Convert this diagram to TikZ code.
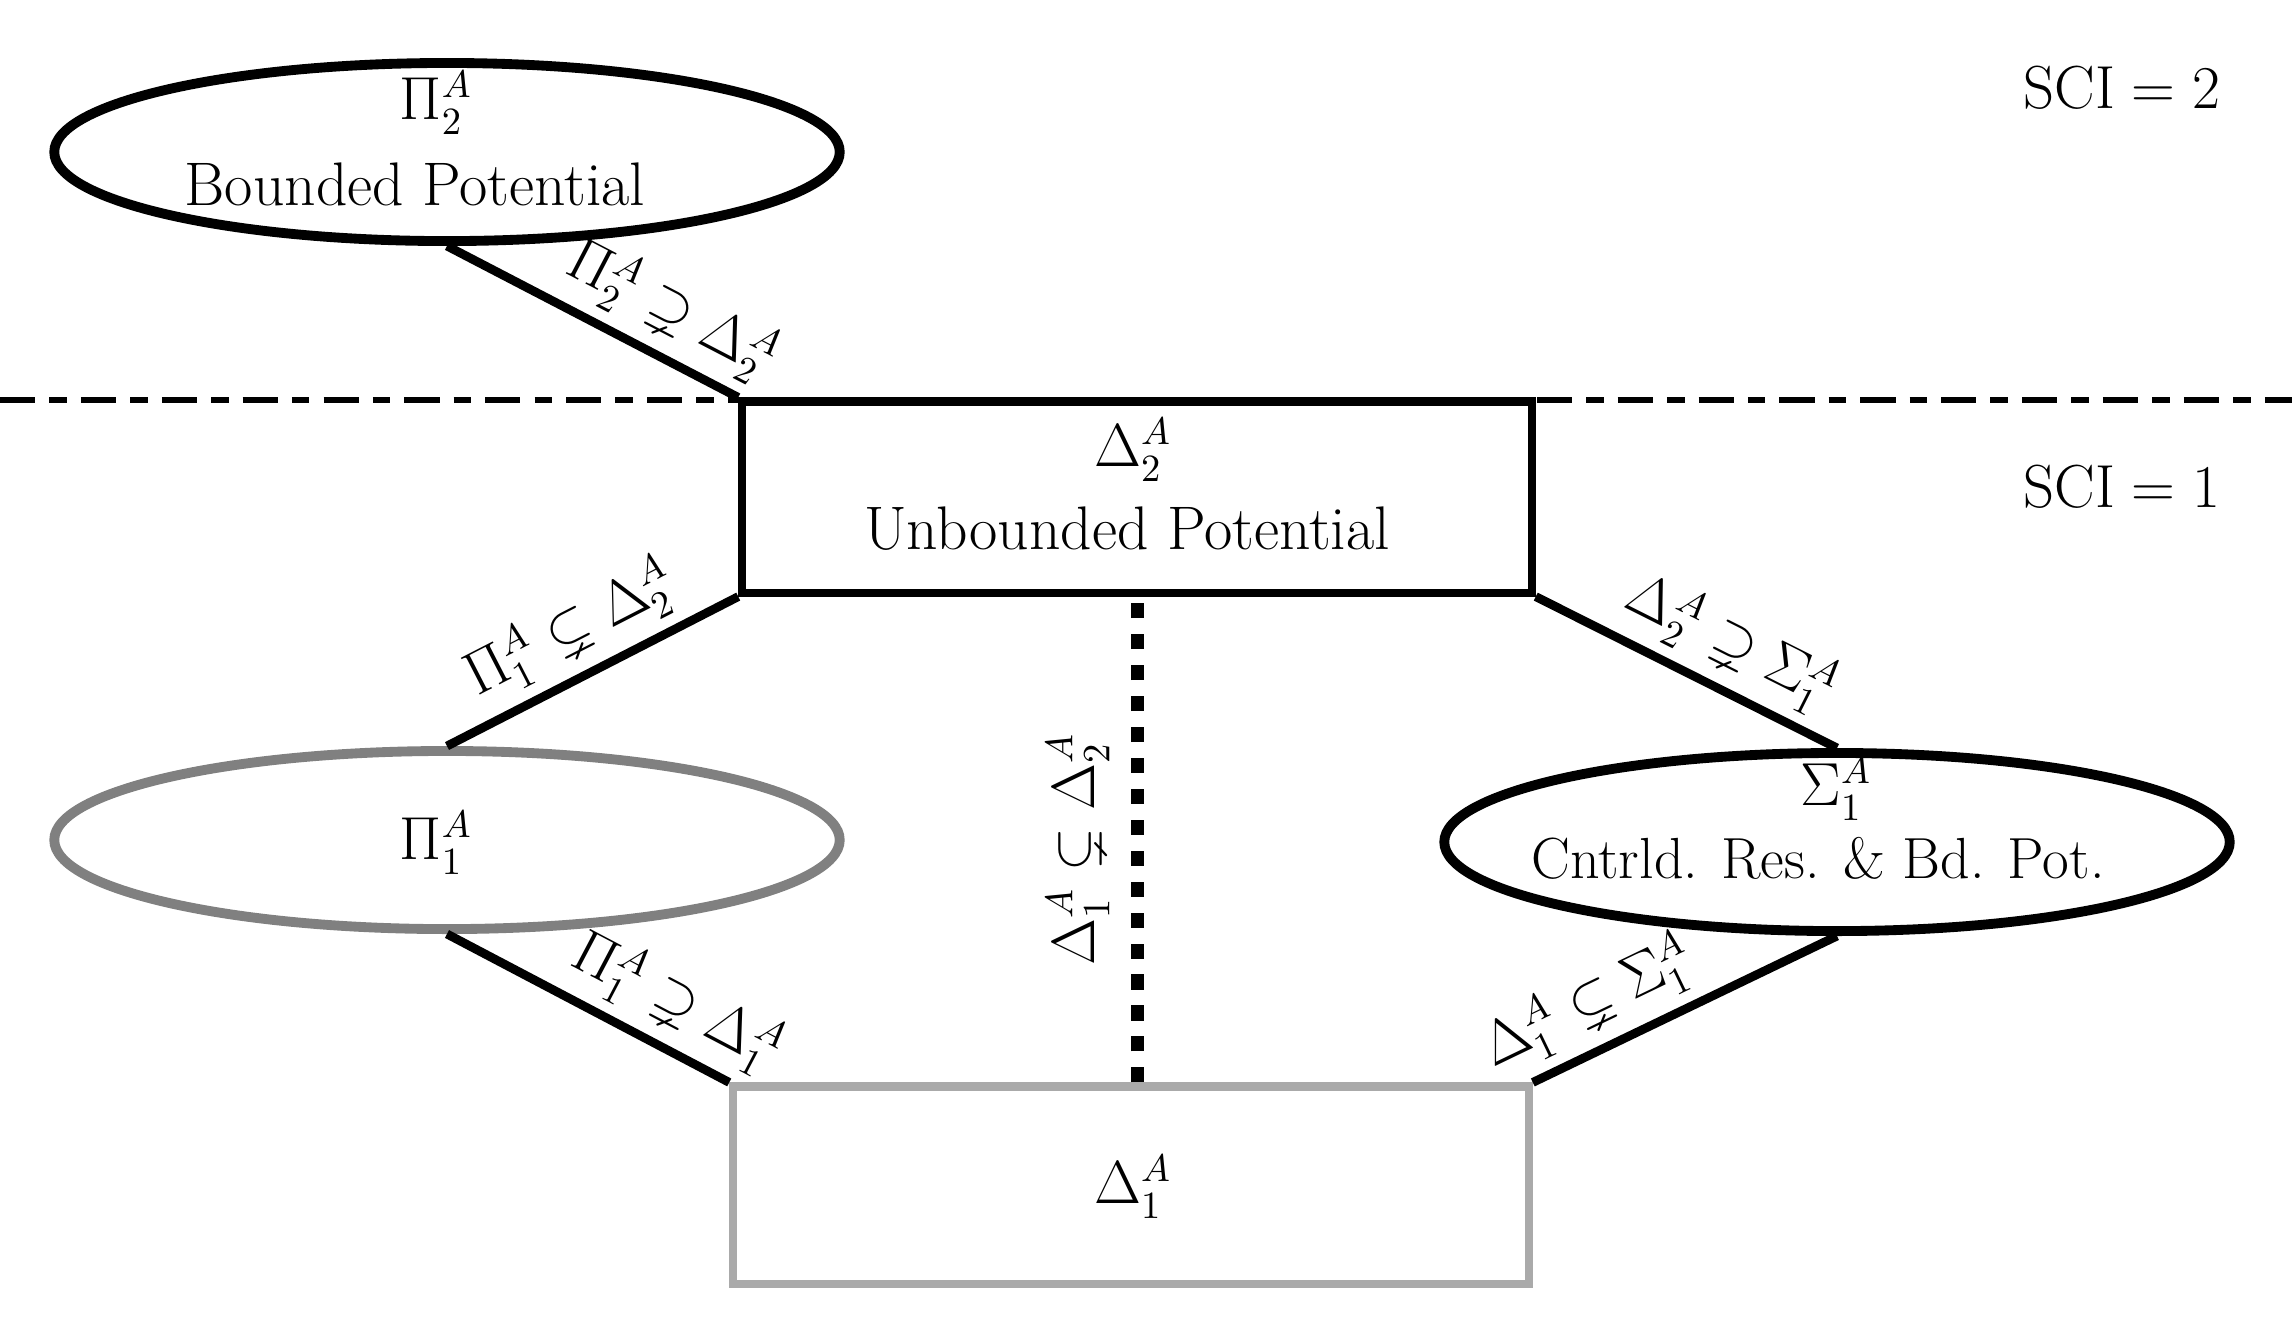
\documentclass[tikz,border=0pt]{standalone}
\usepackage{amssymb}
\usetikzlibrary{shapes.geometric}
\begin{document}
\begin{tikzpicture}[x=0.01cm,y=-0.01cm,
  every node/.style={font=\fontsize{16}{20}\selectfont},
  txt/.style={font=\fontsize{17.5}{21}\selectfont, inner sep=0pt},
  ell/.style={ellipse, draw, line width=2.8pt, minimum width=7.85cm, minimum height=1.78cm, inner sep=0pt},
  boxnode/.style={rectangle, draw, line width=2.3pt, fill=white, inner sep=0pt},
  conn/.style={line width=2.5pt},
  lab/.style={sloped, above, inner sep=3pt}
]
\useasboundingbox (0,0) rectangle (2292,1326);
% dashed separator
\coordinate (dl) at (0,400);
\coordinate (dr) at (2292,400);
\draw[line width=1.5pt, dash pattern=on 10pt off 4pt on 5pt off 4pt] (dl) -- (dr);
% shapes
\node[ell] (T) at (447,152) {};
\node[boxnode, minimum width=7.89cm, minimum height=1.91cm] (U) at (1137,497) {};
\node[ell, draw={rgb,255:red,128;green,128;blue,128}] (L) at (447,840) {};
\node[ell] (R) at (1837,842) {};
\node[boxnode, draw={rgb,255:red,170;green,170;blue,170}, minimum width=7.95cm, minimum height=1.97cm] (D) at (1131,1185) {};
% texts
\node (Tm) at (436,103) {$\Pi_2^A$};
\node[txt] (Tt) at (415,184) {Bounded Potential};
\node (Um) at (1133,450) {$\Delta_2^A$};
\node[txt] (Ut) at (1127,529) {Unbounded Potential};
\node (Lm) at (436,843) {$\Pi_1^A$};
\node (Rm) at (1836,789) {$\Sigma_1^A$};
\node[txt, font=\fontsize{16.5}{20}\selectfont] (Rt) at (1818,858) {Cntrld. Res. \& Bd. Pot.};
\node (Dm) at (1133,1187) {$\Delta_1^A$};
\node (s2) at (2122,88) {$\mathrm{SCI}=2$};
\node (s1) at (2122,487) {$\mathrm{SCI}=1$};
% connectors
\draw[conn] (T.south) -- node[lab, pos=0.70] {$\Pi_2^A \supsetneq \Delta_2^A$} (U.north west);
\draw[conn] (L.north) -- node[lab, pos=0.5] {$\Pi_1^A \subsetneq \Delta_2^A$} (U.south west);
\draw[conn] (U.south east) -- node[lab, pos=0.58] {$\Delta_2^A \supsetneq \Sigma_1^A$} (R.north);
\draw[conn] (L.south) -- node[lab, pos=0.74] {$\Pi_1^A \supsetneq \Delta_1^A$} (D.north west);
\draw[conn] (D.north east) -- node[lab, pos=0.25] {$\Delta_1^A \subsetneq \Sigma_1^A$} (R.south);
\coordinate (dn) at (U.south |- D.north);
\draw[line width=3.7pt, dash pattern=on 4.3pt off 4.5pt] (dn) -- node[lab, pos=0.48, inner sep=6pt] {$\Delta_1^A \subsetneq \Delta_2^A$} (U.south);
\end{tikzpicture}
\end{document}
